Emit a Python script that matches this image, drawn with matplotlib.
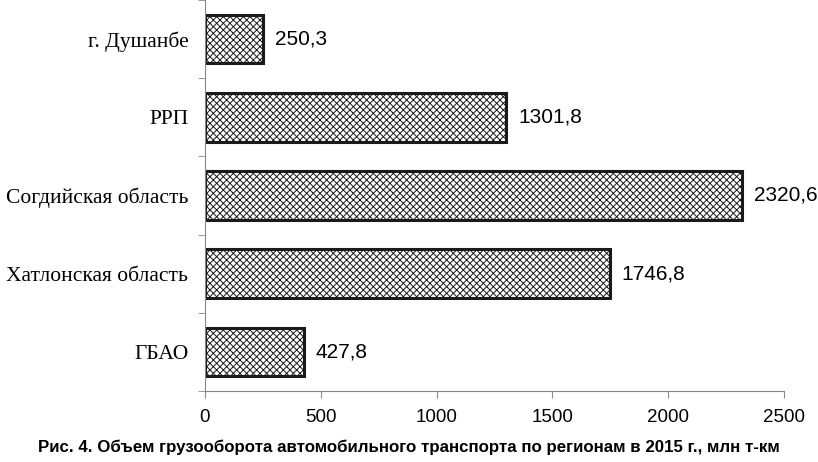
import matplotlib.pyplot as plt

regions = ["г. Душанбе", "РРП", "Согдийская область", "Хатлонская область", "ГБАО"]
values = [250.3, 1301.8, 2320.6, 1746.8, 427.8]
value_labels = ["250,3", "1301,8", "2320,6", "1746,8", "427,8"]
x_ticks = [0, 500, 1000, 1500, 2000, 2500]

plt.rcParams["hatch.linewidth"] = 0.7

fig = plt.figure(figsize=(8.18, 4.62), dpi=100)
ax = fig.add_axes([0.2506, 0.1537, 0.7078, 0.8463])

pos = list(range(len(regions)))[::-1]
bars = ax.barh(pos, values, height=0.62, color="white", edgecolor="#1a1a1a",
               linewidth=2.2, hatch="xxxxx")
for b, v, lab in zip(bars, values, value_labels):
    ax.text(v + 50, b.get_y() + b.get_height() / 2, lab, va="center", ha="left",
            fontsize=15, family="Liberation Sans")

ax.set_xlim(0, 2500)
ax.set_ylim(-0.5, len(regions) - 0.5)
ax.set_xticks(x_ticks)
ax.set_xticklabels([str(t) for t in x_ticks], family="Liberation Sans", fontsize=13.5)
ax.set_yticks(pos)
ax.set_yticklabels(regions, family="Liberation Serif", fontsize=15.5)
ax.set_yticks([i - 0.5 for i in range(len(regions) + 1)], minor=True)
ax.tick_params(axis="y", which="major", length=0, pad=12)
ax.tick_params(axis="y", which="minor", length=5, color="#888888")
ax.tick_params(axis="x", length=5, color="#888888", pad=8)

for s in ["top", "right"]:
    ax.spines[s].set_visible(False)
for s in ["left", "bottom"]:
    ax.spines[s].set_color("#888888")

fig.text(0.5, 0.032, "Рис. 4. Объем грузооборота автомобильного транспорта по регионам в 2015 г., млн т-км",
         ha="center", va="center", fontsize=12.2, fontweight="bold", family="Liberation Sans")

fig.savefig("out.png", dpi=100)
